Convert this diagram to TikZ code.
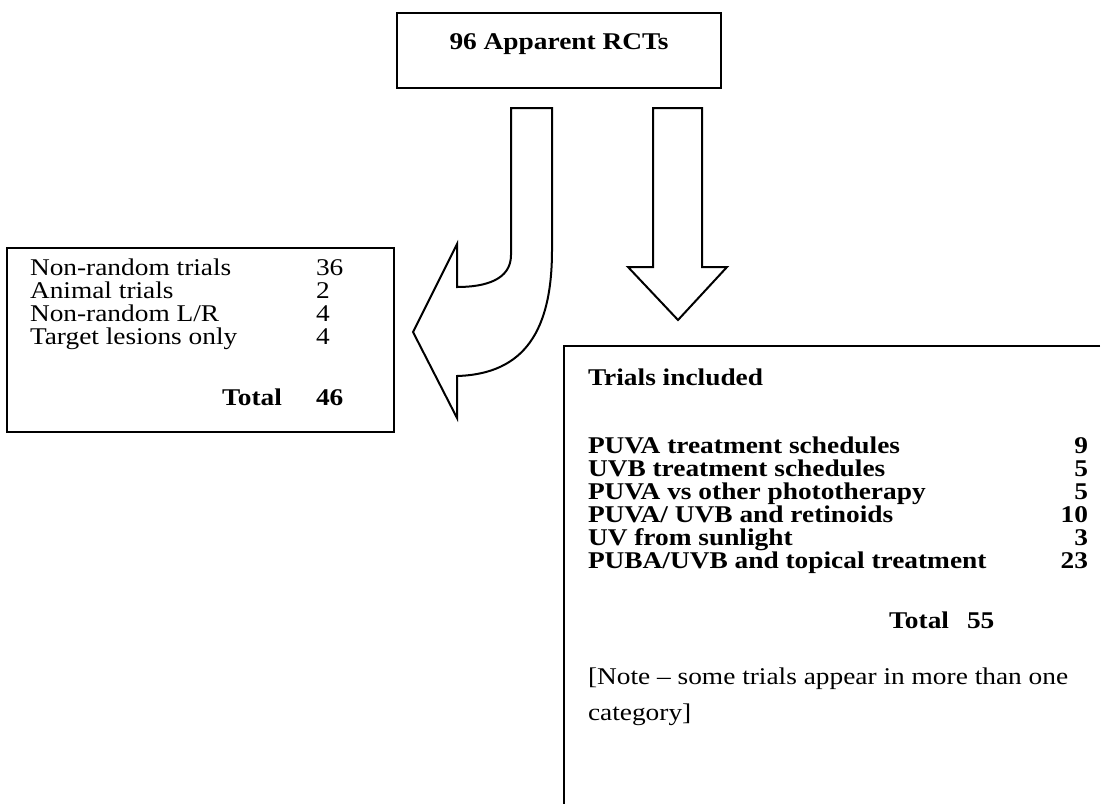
\documentclass[tikz,border=0pt]{standalone}
\usepackage{fontspec}
\setmainfont{Liberation Serif}[FakeStretch=1.14]
\begin{document}
\begin{tikzpicture}[x=1pt,y=-1pt,
  line width=2pt, line join=miter,
  txt/.style={anchor=base west, inner sep=0pt, font=\fontsize{24}{26}\selectfont},
  btxt/.style={txt, font=\fontsize{24}{26}\selectfont\bfseries},
  rnum/.style={anchor=base east, inner sep=0pt, font=\fontsize{24}{26}\selectfont\bfseries}]
\useasboundingbox (0,0) rectangle (1105,804);
% top box
\draw (397,13) rectangle (721,88);
\node[btxt, anchor=base] (top) at (559,49) {96 Apparent RCTs};
% curved arrow
\draw (511,108) -- (552,108) -- (552,250)
  .. controls (552,330) and (525,374) .. (457,376)
  -- (457,418) -- (413,332) -- (457,244) -- (457,287)
  .. controls (485,287) and (511,280) .. (511,255) -- cycle;
% straight arrow
\draw (653,108) -- (702,108) -- (702,267) -- (727,267) -- (678,320)
  -- (628,267) -- (653,267) -- cycle;
% left box
\draw (7,248) rectangle (394,432);
\node[txt] (l1) at (29,275) {Non-random trials};
\node[txt] (l2) at (29,298) {Animal trials};
\node[txt] (l3) at (29,321) {Non-random L/R};
\node[txt] (l4) at (29,344) {Target lesions only};
\node[txt] (n1) at (315,275) {36};
\node[txt] (n2) at (315,298) {2};
\node[txt] (n3) at (315,321) {4};
\node[txt] (n4) at (315,344) {4};
\node[rnum] (lt) at (283,405) {Total};
\node[btxt] (ltn) at (315,405) {46};
% right box (cut off at right and bottom)
\draw (1100,346) -- (564,346) -- (564,804);
\node[btxt] (rh) at (587,385) {Trials included};
\node[btxt] (r1) at (587,453) {PUVA treatment schedules};
\node[btxt] (r2) at (587,476) {UVB treatment schedules};
\node[btxt] (r3) at (587,499) {PUVA vs other phototherapy};
\node[btxt] (r4) at (587,522) {PUVA/ UVB and retinoids};
\node[btxt] (r5) at (587,545) {UV from sunlight};
\node[btxt] (r6) at (587,568) {PUBA/UVB and topical treatment};
\node[rnum] (m1) at (1089,453) {9};
\node[rnum] (m2) at (1089,476) {5};
\node[rnum] (m3) at (1089,499) {5};
\node[rnum] (m4) at (1089,522) {10};
\node[rnum] (m5) at (1089,545) {3};
\node[rnum] (m6) at (1089,568) {23};
\node[rnum] (rt) at (950,628) {Total};
\node[btxt] (rtn) at (966,628) {55};
\node[txt] (note1) at (587,684) {[Note – some trials appear in more than one};
\node[txt] (note2) at (587,720) {category]};
\end{tikzpicture}
\end{document}
